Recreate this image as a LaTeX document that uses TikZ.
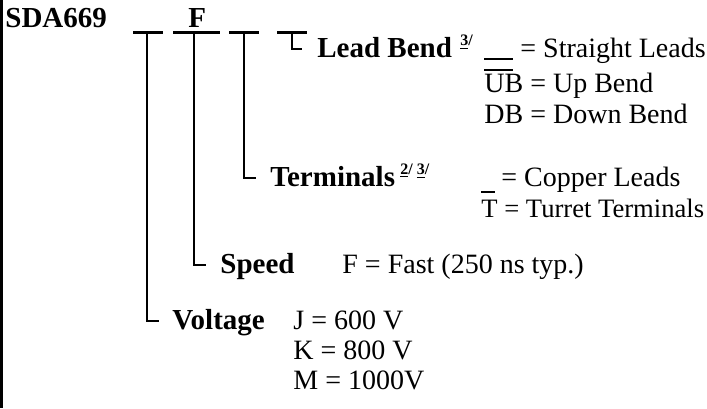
\documentclass[tikz,border=0pt]{standalone}
\usepackage{fontspec}
\setmainfont{Liberation Serif}
\begin{document}
\begin{tikzpicture}[x=0.5pt,y=-0.5pt,
  lbl/.style={anchor=base west, inner sep=0pt, font=\fontsize{14.5}{16}\selectfont\bfseries},
  txt/.style={anchor=base west, inner sep=0pt, font=\fontsize{14}{16}\selectfont},
  supr/.style={anchor=base west, inner sep=0pt, font=\fontsize{8}{9}\selectfont\bfseries},
  barline/.style={line width=1.5pt},
  conn/.style={line width=0.75pt},
  rule/.style={line width=0.6pt}]
\useasboundingbox (0,0) rectangle (707,408);
% left border
\coordinate (btop) at (1.5,0);
\coordinate (bbot) at (1.5,408);
\draw[line width=1.5pt] (btop) -- (bbot);
% title and code letter
\node[lbl] (title) at (5,27) {SDA669};
\node[lbl] (fcode) at (188,27) {F};
% bars
\coordinate (b1l) at (133,32); \coordinate (b1r) at (163,32);
\coordinate (b2l) at (173,32); \coordinate (b2r) at (220,32);
\coordinate (b3l) at (229,32); \coordinate (b3r) at (259,32);
\coordinate (b4l) at (277,32); \coordinate (b4r) at (307,32);
\draw[barline] (b1l) -- (b1r);
\draw[barline] (b2l) -- (b2r);
\draw[barline] (b3l) -- (b3r);
\draw[barline] (b4l) -- (b4r);
% labels
\node[lbl] (lead) at (317,57) {Lead Bend};
\node[supr] (leadsup) at (460,45) {\underline{3}/};
\node[lbl] (term) at (270,186) {Terminals};
\node[supr] (termsup) at (400,174) {\underline{2}/ \underline{3}/};
\node[lbl] (speed) at (220,273) {Speed};
\node[lbl] (volt) at (172,329) {Voltage};
% connectors
\coordinate (v1) at (147,32); \coordinate (v1e) at (159,321);
\coordinate (v2) at (194,32); \coordinate (v2e) at (206,265);
\coordinate (v3) at (244,32); \coordinate (v3e) at (256,178);
\coordinate (v4) at (292,32); \coordinate (v4e) at (302,49);
\draw[conn] (v1) |- (v1e);
\draw[conn] (v2) |- (v2e);
\draw[conn] (v3) |- (v3e);
\draw[conn] (v4) |- (v4e);
% lead bend options
\coordinate (sl1) at (484,59); \coordinate (sl2) at (513,59);
\draw[rule] (sl1) -- (sl2);
\node[txt] (straight) at (520,57) {= Straight Leads};
\node[txt] (ub) at (484,92) {UB = Up Bend};
\coordinate (ub1) at (484,70); \coordinate (ub2) at (513,70);
\draw[rule] (ub1) -- (ub2);
\node[txt] (db) at (484,123) {DB = Down Bend};
% terminal options
\node[txt] (copper) at (501,186) {= Copper Leads};
\node[txt, font=\fontsize{13.3}{16}\selectfont] (turret) at (481,217) {T = Turret Terminals};
\coordinate (tt1) at (481,192); \coordinate (tt2) at (495,192);
\draw[rule] (tt1) -- (tt2);
% speed option
\node[txt] (fast) at (342,273) {F = Fast (250 ns typ.)};
% voltage options
\node[txt] (j) at (293,329) {J = 600 V};
\node[txt] (k) at (293,359) {K = 800 V};
\node[txt] (m) at (293,389) {M = 1000V};
\end{tikzpicture}
\end{document}
